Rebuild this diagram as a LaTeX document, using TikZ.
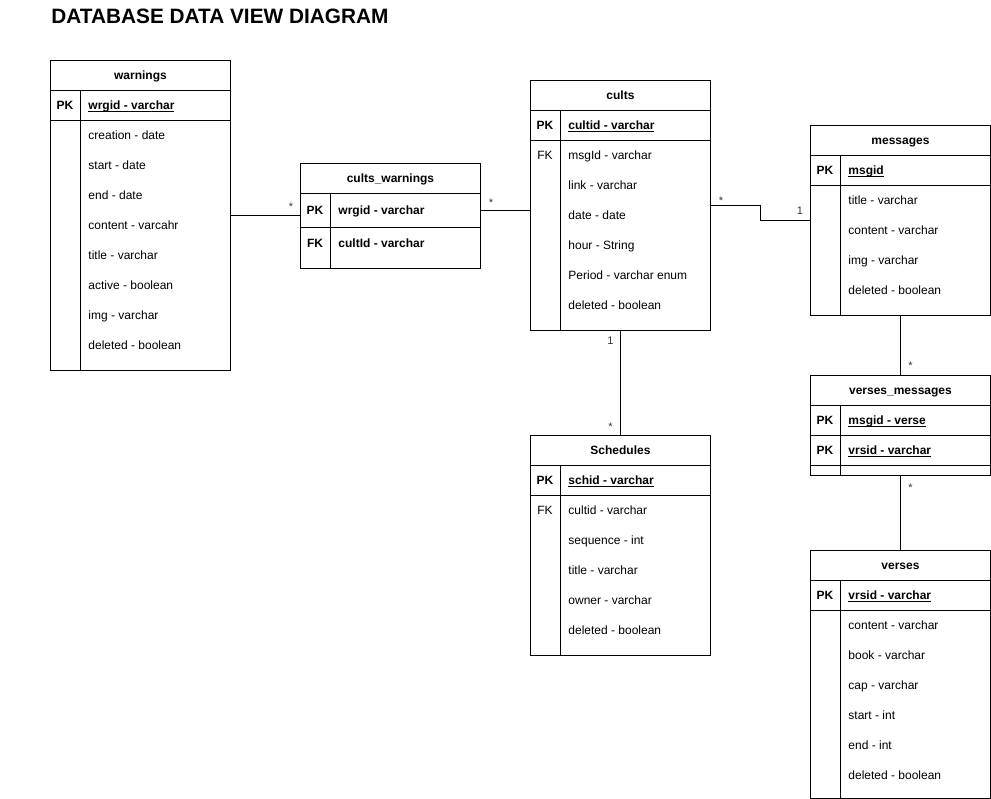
\documentclass[tikz,border=0pt]{standalone}
\usepackage{fontspec}
\setmainfont{Liberation Sans}
\newcommand\ulpk[1]{\setbox0\hbox{#1}\rlap{\vrule height -1.3pt depth 2.1pt width \wd0}\box0}

\begin{document}
\begin{tikzpicture}[x=1pt, y=-1pt, line width=0.9pt,
    tbl/.style={draw, minimum width=180pt, inner sep=0pt, anchor=north west},
    hdr/.style={anchor=base, yshift=-4.3pt, inner sep=0pt, font=\fontsize{12}{14}\selectfont\bfseries},
    key/.style={anchor=base, yshift=-4.3pt, inner sep=0pt, font=\fontsize{12}{14}\selectfont\bfseries},
    fk/.style={key, font=\fontsize{12}{14}\selectfont},
    fld/.style={anchor=base west, yshift=-4.3pt, inner sep=0pt, font=\fontsize{12}{14}\selectfont},
    pkfld/.style={fld, font=\fontsize{12}{14}\selectfont\bfseries},
    mult/.style={inner sep=0pt, text=black!80, font=\fontsize{11}{13}\selectfont}
]
\useasboundingbox (0,0) rectangle (991,799);

% Title
\node[anchor=base west, inner sep=0pt, font=\fontsize{20.8}{24}\selectfont\bfseries] (TTL) at (51,23.3) {DATABASE DATA VIEW DIAGRAM};

% Tables
\node[tbl, minimum height=310pt] (WRN) at (50,60) {};
\node[tbl, minimum height=105pt] (CW) at (300,163) {};
\node[tbl, minimum height=250pt] (CLT) at (530,80) {};
\node[tbl, minimum height=190pt] (MSG) at (810,125) {};
\node[tbl, minimum height=100pt] (VM) at (810,375) {};
\node[tbl, minimum height=220pt] (SCH) at (530,435) {};
\node[tbl, minimum height=248pt] (VRS) at (810,550) {};

% Header, key and column lines
\foreach \t in {WRN, CLT, MSG, SCH, VRS} {
  \draw ([yshift=-30pt]\t.north west) -- ([yshift=-30pt]\t.north east);
  \draw ([yshift=-60pt]\t.north west) -- ([yshift=-60pt]\t.north east);
  \draw ([shift={(30pt,-30pt)}]\t.north west) -- ([xshift=30pt]\t.south west);
}
\draw ([yshift=-30pt]CW.north west) -- ([yshift=-30pt]CW.north east);
\draw ([yshift=-64pt]CW.north west) -- ([yshift=-64pt]CW.north east);
\draw ([shift={(30pt,-30pt)}]CW.north west) -- ([xshift=30pt]CW.south west);
\draw ([yshift=-30pt]VM.north west) -- ([yshift=-30pt]VM.north east);
\draw ([yshift=-60pt]VM.north west) -- ([yshift=-60pt]VM.north east);
\draw ([yshift=-90pt]VM.north west) -- ([yshift=-90pt]VM.north east);
\draw ([shift={(30pt,-30pt)}]VM.north west) -- ([xshift=30pt]VM.south west);

% Headers
\foreach \t/\h in {WRN/warnings, CW/cults\_warnings, CLT/cults, MSG/messages, VM/verses\_messages, SCH/Schedules, VRS/verses}
  \node[hdr] (\t-h) at ([yshift=-15pt]\t.north) {\h};

% warnings
\node[key] (WRN-k1) at (65,105) {PK};
\node[pkfld] (WRN-pk) at (88,105) {\ulpk{wrgid - varchar}};
\foreach \f [count=\i] in {creation - date, start - date, end - date, content - varcahr, title - varchar, active - boolean, img - varchar, deleted - boolean}
  \node[fld] (WRN-f\i) at (88,{105+30*\i}) {\f};

% cults_warnings
\node[key] (CW-k1) at (315,210) {PK};
\node[pkfld] (CW-pk) at (338,210) {wrgid - varchar};
\node[key] (CW-k2) at (315,243) {FK};
\node[pkfld] (CW-fk) at (338,243) {cultId - varchar};

% cults
\node[key] (CLT-k1) at (545,125) {PK};
\node[pkfld] (CLT-pk) at (568,125) {\ulpk{cultid - varchar}};
\node[fk] (CLT-k2) at (545,155) {FK};
\foreach \f [count=\i] in {msgId - varchar, link - varchar, date - date, hour - String, Period - varchar enum, deleted - boolean}
  \node[fld] (CLT-f\i) at (568,{125+30*\i}) {\f};

% messages
\node[key] (MSG-k1) at (825,170) {PK};
\node[pkfld] (MSG-pk) at (848,170) {\ulpk{msgid}};
\foreach \f [count=\i] in {title - varchar, content - varchar, img - varchar, deleted - boolean}
  \node[fld] (MSG-f\i) at (848,{170+30*\i}) {\f};

% verses_messages
\node[key] (VM-k1) at (825,420) {PK};
\node[pkfld] (VM-pk1) at (848,420) {\ulpk{msgid - verse}};
\node[key] (VM-k2) at (825,450) {PK};
\node[pkfld] (VM-pk2) at (848,450) {\ulpk{vrsid - varchar}};

% Schedules
\node[key] (SCH-k1) at (545,480) {PK};
\node[pkfld] (SCH-pk) at (568,480) {\ulpk{schid - varchar}};
\node[fk] (SCH-k2) at (545,510) {FK};
\foreach \f [count=\i] in {cultid - varchar, sequence - int, title - varchar, owner - varchar, deleted - boolean}
  \node[fld] (SCH-f\i) at (568,{480+30*\i}) {\f};

% verses
\node[key] (VRS-k1) at (825,595) {PK};
\node[pkfld] (VRS-pk) at (848,595) {\ulpk{vrsid - varchar}};
\foreach \f [count=\i] in {content - varchar, book - varchar, cap - varchar, start - int, end - int, deleted - boolean}
  \node[fld] (VRS-f\i) at (848,{595+30*\i}) {\f};

% Connections
\draw (WRN.east) -- (WRN.east -| CW.west)
  node[mult, pos=1, xshift=-9pt, yshift=8.5pt] (WRN-m) {*};
\draw (CW.east |- CW-k1) -- (CLT.west |- CW-k1)
  node[mult, pos=0, xshift=10pt, yshift=7.5pt] (CW-m) {*};
\draw (CLT.east) -- ++(50,0) node[mult, pos=0, xshift=10pt, yshift=4.5pt] (CLT-m1) {*}
  |- (MSG.west) node[mult, pos=1, xshift=-10pt, yshift=10pt] (MSG-m1) {1};
\draw (CLT.south) -- (SCH.north)
  node[mult, pos=0, xshift=-10pt, yshift=-10pt] (CLT-m2) {1}
  node[mult, pos=1, xshift=-10pt, yshift=8.5pt] (SCH-m) {*};
\draw (MSG.south) -- (VM.north)
  node[mult, pos=1, xshift=10pt, yshift=9.5pt] (VM-m1) {*};
\draw (VM.south) -- (VRS.north)
  node[mult, pos=0, xshift=10pt, yshift=-11.5pt] (VM-m2) {*};
\end{tikzpicture}
\end{document}
